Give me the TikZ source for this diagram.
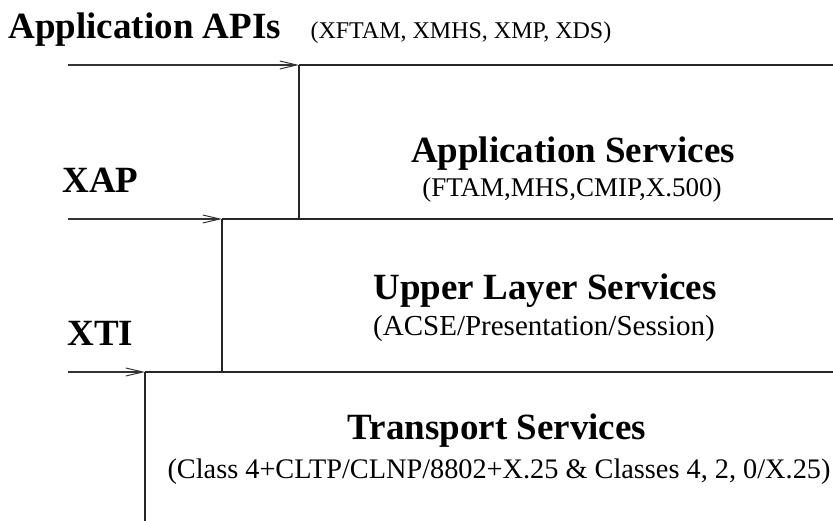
\documentclass[tikz,border=0pt]{standalone}
\usepackage{fontspec}
\setmainfont{Liberation Serif}
\usetikzlibrary{arrows.meta}
\begin{document}
\begin{tikzpicture}[x=1pt,y=-1pt,line width=1.1pt]
\def\ttl#1{\fontsize{37}{40}\selectfont\bfseries #1}
\def\sm#1#2{\fontsize{#1}{#1}\selectfont #2}
\tikzstyle{lbl}=[inner sep=0,anchor=base];
\tikzstyle{lblw}=[inner sep=0,anchor=base west];
\tikzstyle{api}=[-{Straight Barb[length=17pt,width=8pt,line width=1pt]},black!80];
\tikzstyle{edge}=[black!85];
\useasboundingbox (0,0) rectangle (833,521);

\node [lblw] (apis) at (8,39) {\ttl{Application APIs}};
\node [lblw] (apislist) at (310,39) {\sm{24}{(XFTAM, XMHS, XMP, XDS)}};

\coordinate (a0) at (68,65);
\coordinate (a1) at (299,65);
\coordinate (a2) at (833,65);
\draw [api] (a0) -- (a1);
\draw [edge] (a1) -- (a2);

\node [lbl] (appl) at (573,163) {\ttl{Application Services}};
\node [lbl] (appllist) at (572,197) {\sm{27}{(FTAM,MHS,CMIP,X.500)}};
\node [lblw] (xap) at (62,193) {\ttl{XAP}};

%%

\coordinate (u0) at (68,219);
\coordinate (u1) at (222,219);
\coordinate (u2) at (833,219);
\draw [edge] (a1) -- (a1 |- u1);
\draw [api] (u0) -- (u1);
\draw [edge] (u1) -- (u2);

\node [lbl] (upper) at (545,300) {\ttl{Upper Layer Services}};
\node [lbl] (upperlist) at (544,336) {\sm{29}{(ACSE/Presentation/Session)}};
\node [lblw] (xti) at (67,345) {\ttl{XTI}};

%%

\coordinate (t0) at (68,372);
\coordinate (t1) at (145,372);
\coordinate (t2) at (833,372);
\coordinate (t3) at (145,521);
\draw [edge] (u1) -- (u1 |- t1);
\draw [api] (t0) -- (t1);
\draw [edge] (t1) -- (t2);
\draw [edge] (t1) -- (t3);

\node [lbl] (trans) at (497,439) {\ttl{Transport Services}};
\node [lbl] (translist) at (499,478) {\sm{28.3}{(Class 4+CLTP/CLNP/8802+X.25 \& Classes 4, 2, 0/X.25)}};
\end{tikzpicture}
\end{document}
